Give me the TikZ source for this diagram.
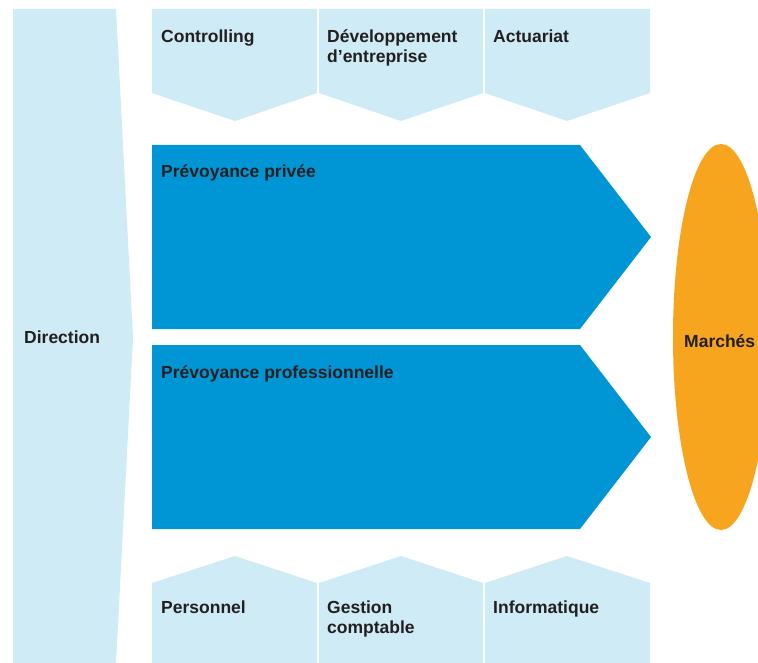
\documentclass[tikz,border=0pt]{standalone}
\usepackage{fontspec}
\setmainfont{Liberation Sans}
\definecolor{paleblue}{HTML}{CFECF6}
\definecolor{corpblue}{HTML}{0096D5}
\definecolor{marketorange}{HTML}{F7A51E}
\definecolor{labelgrey}{HTML}{231F20}
\tikzset{
  unitlabel/.style={anchor=base west, inner sep=0pt, align=left,
    font=\fontsize{17.5}{20}\selectfont\bfseries, text=labelgrey},
}

\begin{document}
\begin{tikzpicture}[x=1pt, y=-1pt]
  \clip (0,0) rectangle (758,663);
  \fill[white] (0,0) rectangle (758,663);
  % direction
  \fill[paleblue] (13,9) -- (116,9) -- (133,338) -- (116,663) -- (13,663) -- cycle;
  \node[unitlabel] (direction) at (24,343) {Direction};
  % top boxes
  \fill[paleblue] (152,9) -- (317,9) -- (317,93) -- (235,121) -- (152,93) -- cycle;
  \node[unitlabel] (controlling) at (161,43) {Controlling};
  \fill[paleblue] (319,9) -- (483,9) -- (483,93) -- (401,121) -- (319,93) -- cycle;
  \node[unitlabel] (developpement) at (327,63) {Développement\\d’entreprise};
  \fill[paleblue] (485,9) -- (650,9) -- (650,93) -- (567,121) -- (485,93) -- cycle;
  \node[unitlabel] (actuariat) at (493,43) {Actuariat};
  % business lines
  \fill[corpblue] (152,145) -- (580,145) -- (651,237) -- (580,329) -- (152,329) -- cycle;
  \node[unitlabel] (privee) at (161,178) {Prévoyance privée};
  \fill[corpblue] (152,345) -- (580,345) -- (651,437) -- (580,529) -- (152,529) -- cycle;
  \node[unitlabel] (professionnelle) at (161,378) {Prévoyance professionnelle};
  % markets
  \fill[marketorange] (721,337) ellipse [x radius=48, y radius=193];
  \node[unitlabel] (marches) at (684,347) {Marchés};
  % bottom boxes
  \fill[paleblue] (152,583) -- (235,556) -- (317,583) -- (317,663) -- (152,663) -- cycle;
  \node[unitlabel] (personnel) at (161,613) {Personnel};
  \fill[paleblue] (319,583) -- (401,556) -- (483,583) -- (483,663) -- (319,663) -- cycle;
  \node[unitlabel] (gestion) at (327,633) {Gestion\\comptable};
  \fill[paleblue] (485,583) -- (567,556) -- (650,583) -- (650,663) -- (485,663) -- cycle;
  \node[unitlabel] (informatique) at (493,613) {Informatique};
\end{tikzpicture}
\end{document}
